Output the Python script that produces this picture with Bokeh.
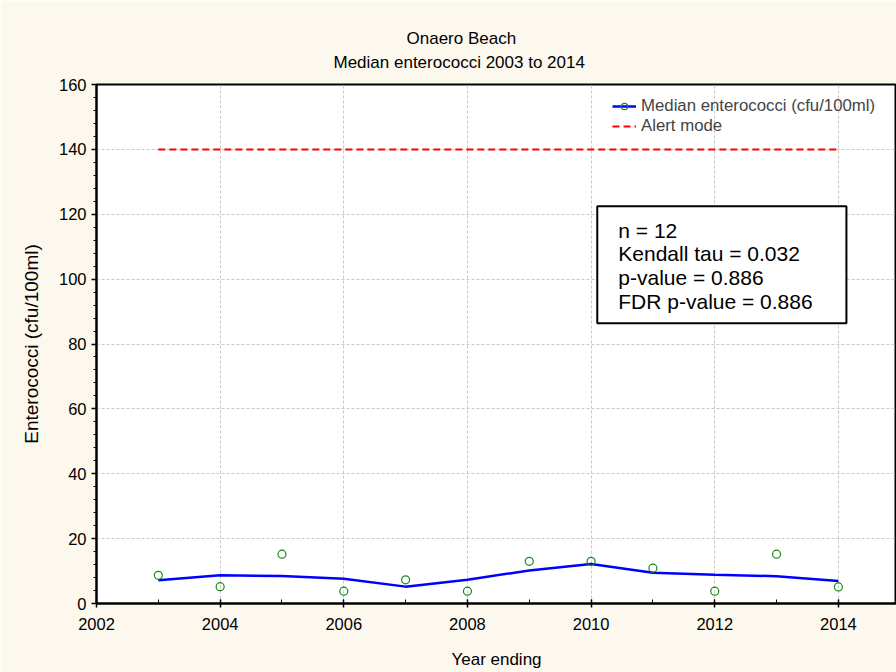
from bokeh.plotting import figure
from bokeh.models import (ColumnDataSource, Label, BoxAnnotation, Legend, LegendItem,
                          FixedTicker, Range1d, Title)
from bokeh.embed import file_html
from bokeh.resources import INLINE

# ---- data ----
years = [2003, 2004, 2005, 2006, 2007, 2008, 2009, 2010, 2011, 2012, 2013, 2014]
median_ent = [8.7, 5.2, 15.2, 3.8, 7.3, 3.8, 13.0, 13.0, 10.9, 3.8, 15.2, 5.1]
smooth_ent = [7.2, 8.7, 8.5, 7.6, 5.2, 7.3, 10.2, 12.2, 9.5, 8.9, 8.4, 6.9]
alert_years = [2003, 2014]
alert_level = [140, 140]
title_lines = ["Onaero Beach", "Median enterococci 2003 to 2014"]
stats_lines = ["n = 12", "Kendall tau = 0.032", "p-value = 0.886", "FDR p-value = 0.886"]
x_ticks = [2002, 2004, 2006, 2008, 2010, 2012, 2014]
y_ticks = [0, 20, 40, 60, 80, 100, 120, 140, 160]

FONT = "Liberation Sans"
BG = "#fdf8ee"

p = figure(width=896, height=672, output_backend="svg", toolbar_location=None,
           x_range=Range1d(2002, 2014.94), y_range=Range1d(0, 160),
           min_border_left=96, min_border_right=0, min_border_bottom=69, min_border_top=84)
p.background_fill_color = "white"
p.border_fill_color = BG
p.outline_line_color = "black"
p.outline_line_width = 2

# titles (first added is closest to the plot)
t2 = Title(text=title_lines[1], align="left", offset=237, standoff=26,
           text_font=FONT, text_font_size="17px", text_font_style="normal", text_color="black")
t1 = Title(text=title_lines[0], align="left", offset=310, standoff=-21,
           text_font=FONT, text_font_size="17px", text_font_style="normal", text_color="black")
p.add_layout(t2, "above")
p.add_layout(t1, "above")

# grid
for g in (p.xgrid, p.ygrid):
    g.grid_line_color = "#c8c8c8"
    g.grid_line_dash = "3 2"
    g.grid_line_width = 1

# axes
p.xaxis.ticker = FixedTicker(ticks=x_ticks, minor_ticks=list(range(2002, 2016)))
p.yaxis.ticker = FixedTicker(ticks=y_ticks, minor_ticks=list(range(0, 161, 4)))
for ax in (p.xaxis[0], p.yaxis[0]):
    ax.axis_line_color = "black"
    ax.axis_line_width = 2
    ax.major_tick_line_color = "black"
    ax.minor_tick_line_color = "black"
    ax.major_tick_line_width = 1.5
    ax.minor_tick_line_width = 1
    ax.major_label_text_font = FONT
    ax.major_label_text_font_size = "16.5px"
    ax.major_label_text_color = "black"
    ax.axis_label_text_font = FONT
    ax.axis_label_text_font_style = "normal"
    ax.axis_label_text_color = "black"
p.xaxis.major_tick_in = 4
p.xaxis.major_tick_out = 4
p.xaxis.minor_tick_in = 4
p.xaxis.minor_tick_out = 0
p.xaxis.major_label_standoff = 10
p.xaxis.axis_label = "Year ending"
p.xaxis.axis_label_text_font_size = "17px"
p.xaxis.axis_label_standoff = 17
p.yaxis.major_tick_in = 0
p.yaxis.major_tick_out = 5
p.yaxis.minor_tick_in = 0
p.yaxis.minor_tick_out = 3
p.yaxis.major_label_standoff = 5
p.yaxis.axis_label = "Enterococci (cfu/100ml)"
p.yaxis.axis_label_text_font_size = "19px"
p.yaxis.axis_label_standoff = 14

src = ColumnDataSource(dict(x=years, y=median_ent, s=smooth_ent))
r_line = p.line("x", "s", source=src, line_color="#0000ff", line_width=2.5)
r_pts = p.scatter("x", "y", source=src, marker="circle", size=8, fill_color=None,
                  line_color="#158a15", line_width=1.2)
r_alert = p.line(alert_years, alert_level, line_color="#ff0000", line_width=2, line_dash="7 4")

# stats box
box = BoxAnnotation(left=2010.10, right=2014.13, bottom=86.4, top=122.5,
                    fill_color="white", fill_alpha=1, line_color="black", line_alpha=1,
                    line_width=2)
p.add_layout(box)
ys = [115.0, 107.8, 100.5, 93.1]
for txt, yy in zip(stats_lines, ys):
    p.add_layout(Label(x=2010.44, y=yy, text=txt, text_font=FONT, text_font_size="21px",
                       text_baseline="middle", text_color="black"))

legend = Legend(items=[LegendItem(label="Median enterococci (cfu/100ml)", renderers=[r_line, r_pts]),
                       LegendItem(label="Alert mode", renderers=[r_alert])],
                location=(514, 465), label_text_font=FONT, label_text_font_size="16.8px",
                glyph_width=24, glyph_height=16, label_height=18, spacing=0, padding=2,
                margin=0, label_standoff=5, background_fill_alpha=0, border_line_alpha=0)
p.add_layout(legend)

open("out.html", "w").write(file_html(p, INLINE))
